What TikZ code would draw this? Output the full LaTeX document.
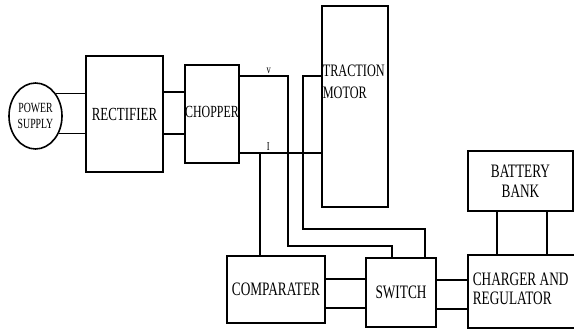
\documentclass[tikz,border=0pt]{standalone}
\usepackage{fontspec}
\setmainfont{Liberation Serif}[FakeStretch=0.7]
\usetikzlibrary{shapes.geometric}
\begin{document}
\begin{tikzpicture}[x=1pt, y=-1pt, line width=1.6pt,
  blk/.style={draw, rectangle, inner sep=0pt, align=center, font=\fontsize{19}{19}\selectfont},
  tag/.style={inner sep=1.5pt, font=\fontsize{12}{12}\selectfont}]
\clip (0,0) rectangle (574,333);
% blocks
\node[draw, ellipse, minimum width=53pt, minimum height=66pt, inner sep=0pt, align=center, font=\fontsize{14}{16}\selectfont] (ps) at (35.5,116) {POWER\\SUPPLY};
\node[blk, minimum width=77pt, minimum height=116pt, font=\fontsize{18.5}{18}\selectfont] (rect) at (124.5,114) {RECTIFIER};
\node[blk, minimum width=54pt, minimum height=98pt, font=\fontsize{17}{17}\selectfont] (chop) at (212,114) {\raisebox{4pt}{CHOPPER}};
\node[blk, minimum width=66pt, minimum height=201pt] (motor) at (355,106.5) {};
\node[anchor=north west, inner sep=0pt, align=left, font=\fontsize{17.5}{22}\selectfont] (motortxt) at (322,64) {TRACTION\\MOTOR};
\node[blk, minimum width=105pt, minimum height=60pt, font=\fontsize{19}{20}\selectfont] (batt) at (520.5,181) {BATTERY\\BANK};
\node[blk, minimum width=98pt, minimum height=67pt] (comp) at (276,289.5) {\raisebox{-3pt}{COMPARATER}};
\node[blk, minimum width=70pt, minimum height=69pt] (sw) at (401,292.5) {SWITCH};
\node[blk, minimum width=112pt, minimum height=73pt] (chg) at (524,291.5) {};
\node[anchor=west, inner sep=0pt, align=left, font=\fontsize{19}{19}\selectfont] (chgtxt) at (472,289) {CHARGER AND\\REGULATOR};
% supply and chopper links
\draw (ps.48) -- (ps.48 -| rect.west);  \draw (ps.-37) -- (ps.-37 -| rect.west);
\draw (rect.east |- 0,92) -- (chop.west |- 0,92);  \draw (rect.east |- 0,134) -- (chop.west |- 0,134);
% v and I sensing
\draw (chop.east |- 0,76) -- node[tag, above, pos=.6]{v} (288,76) -- (288,246) -- (392,246) -- (sw.north -| 392,0);
\draw (motor.west |- 0,76) -- (303,76) -- (303,229) -- (425,229) -- (sw.north -| 425,0);
\draw (chop.east |- 0,153) -- node[tag, above, pos=.35]{I} (motor.west |- 0,153);
\draw (260,153) -- (comp.north -| 260,0);
% lower links
\draw (comp.east |- 0,279) -- (sw.west |- 0,279);  \draw (comp.east |- 0,308) -- (sw.west |- 0,308);
\draw (sw.east |- 0,280) -- (chg.west |- 0,280);  \draw (sw.east |- 0,309) -- (chg.west |- 0,309);
\draw (batt.south -| 497,0) -- (chg.north -| 497,0);  \draw (batt.south -| 547,0) -- (chg.north -| 547,0);
\end{tikzpicture}
\end{document}
